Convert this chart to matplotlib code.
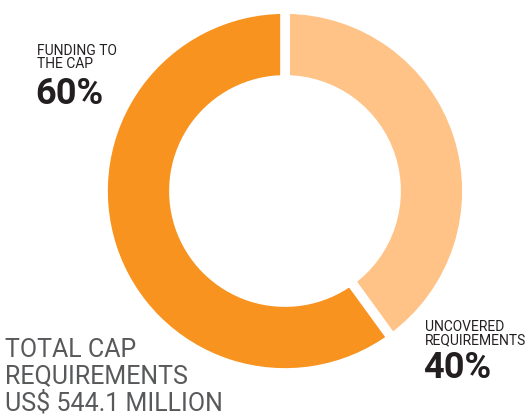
import matplotlib.pyplot as plt

labels = ['UNCOVERED\nREQUIREMENTS', 'FUNDING TO\nTHE CAP']
shares = [40, 60]
colors = ['#FFC388', '#F7931E']
total_text = 'TOTAL CAP\nREQUIREMENTS\nUS$ 544.1 MILLION'

W, H = 530, 418
fig = plt.figure(figsize=(W / 100, H / 100), dpi=100)

# donut centre ~ (285, 192) px, outer radius ~182 px
cx, cy, r = 285, 191, 182
ax = fig.add_axes([(cx - r) / W, (H - cy - r) / H, 2 * r / W, 2 * r / H])
ax.pie(shares, colors=colors, startangle=90, counterclock=False, radius=1,
       wedgeprops=dict(width=0.39, edgecolor='white', linewidth=7))
ax.set_xlim(-1.0, 1.0)
ax.set_ylim(-1.0, 1.0)
ax.set_aspect('equal')
ax.axis('off')

font = ['Roboto', 'DejaVu Sans']

# left label
fig.text(37 / W, 1 - 44 / H, labels[1], ha='left', va='top', fontsize=10,
         family=font, color='#231f20', linespacing=0.95)
fig.text(35 / W, 1 - 104 / H, f'{shares[1]}%', ha='left', va='baseline',
         fontsize=26, fontweight='bold', family=font, color='#231f20')

# right label
fig.text(425 / W, 1 - 320 / H, labels[0], ha='left', va='top', fontsize=10,
         family=font, color='#231f20', linespacing=0.95)
fig.text(423 / W, 1 - 378 / H, f'{shares[0]}%', ha='left', va='baseline',
         fontsize=26, fontweight='bold', family=font, color='#231f20')

# total
fig.text(5 / W, 1 - 338 / H, total_text, ha='left', va='top', fontsize=18,
         family=font, color='#58595b', linespacing=1.12)

fig.savefig('out.png', dpi=100)
